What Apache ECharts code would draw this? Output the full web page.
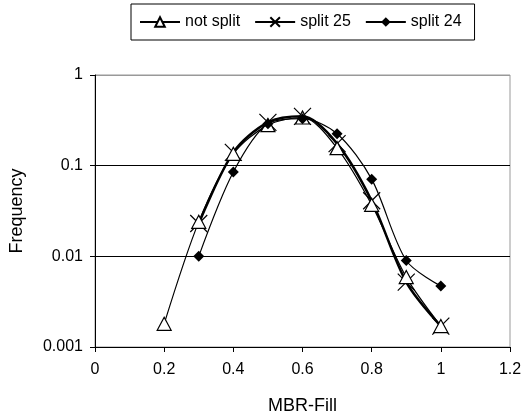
<!DOCTYPE html>
<html>
<head>
<meta charset="utf-8">
<script src="https://cdn.jsdelivr.net/npm/echarts@6/dist/echarts.min.js"></script>
<style>
  html, body { margin: 0; padding: 0; background: #fff; }
  #main { width: 522px; height: 417px; }
</style>
</head>
<body>
<div id="main"></div>
<script>
// values
var notSplitX = [0.2, 0.3, 0.4, 0.5, 0.6, 0.7, 0.8, 0.9, 1.0];
var notSplitY = [0.0018, 0.024, 0.135, 0.28, 0.34, 0.156, 0.037, 0.0059, 0.0017];
var split25X = [0.3, 0.4, 0.5, 0.6, 0.7, 0.8, 0.9, 1.0];
var split25Y = [0.023, 0.14, 0.3, 0.35, 0.175, 0.041, 0.0052, 0.0017];
var split24X = [0.3, 0.4, 0.5, 0.6, 0.7, 0.8, 0.9, 1.0];
var split24Y = [0.01, 0.085, 0.29, 0.33, 0.225, 0.071, 0.009, 0.0047];
var yTickLabels = ['0.001', '0.01', '0.1', '1'];

function pairs(xs, ys) {
  return xs.map(function (x, i) { return [x, ys[i]]; });
}

var crossPath = 'path://M0,0L10,10M10,0L0,10';
var font = 'Liberation Sans, Arial, sans-serif';

var chart = echarts.init(document.getElementById('main'));
var option = {
  animation: false,
  backgroundColor: '#fff',
  textStyle: { fontFamily: font },
  legend: {
    left: 131,
    top: 4,
    padding: [10, 13, 10, 8],
    borderColor: '#000',
    borderWidth: 1,
    itemWidth: 40,
    itemHeight: 12,
    itemGap: 14,
    textStyle: { fontSize: 16, color: '#000', fontFamily: font },
    data: ['not split', 'split 25', 'split 24']
  },
  grid: {
    left: 95,
    right: 12,
    top: 75,
    bottom: 70,
    outerBoundsMode: 'none',
    show: true,
    borderColor: '#999',
    borderWidth: 1
  },
  xAxis: {
    type: 'value',
    min: 0,
    max: 1.2,
    interval: 0.2,
    name: 'MBR-Fill',
    nameLocation: 'middle',
    nameGap: 50,
    nameTextStyle: { fontSize: 18, color: '#000' },
    axisLine: { lineStyle: { color: '#000', width: 1 } },
    axisTick: { show: true, length: 5, lineStyle: { color: '#000' } },
    axisLabel: { fontSize: 16, color: '#000', margin: 15 },
    splitLine: { show: false }
  },
  yAxis: {
    type: 'log',
    logBase: 10,
    min: 0.001,
    max: 1,
    name: 'Frequency',
    nameLocation: 'middle',
    nameGap: 69,
    nameTextStyle: { fontSize: 18, color: '#000' },
    axisLine: { show: true, lineStyle: { color: '#000', width: 1 } },
    axisTick: { show: true, length: 5, lineStyle: { color: '#000' } },
    axisLabel: {
      fontSize: 16, color: '#000', margin: 12,
      formatter: function (v) {
        var i = Math.round(Math.log10(v)) + 3;
        return yTickLabels[i] !== undefined ? yTickLabels[i] : '';
      }
    },
    minorTick: { show: false },
    splitLine: { show: true, lineStyle: { color: ['#000', '#000', '#000', '#999'], width: 1 } }
  },
  series: [
    {
      name: 'not split',
      type: 'line',
      data: pairs(notSplitX, notSplitY),
      smooth: 0.3,
      symbol: 'triangle',
      symbolSize: [14, 13],
      lineStyle: { color: '#000', width: 1.2 },
      itemStyle: { color: '#fff', borderColor: '#000', borderWidth: 1.2 },
      z: 3
    },
    {
      name: 'split 25',
      type: 'line',
      data: pairs(split25X, split25Y),
      smooth: 0.3,
      symbol: crossPath,
      symbolSize: 17,
      lineStyle: { color: '#000', width: 2.5 },
      itemStyle: { color: '#000', borderColor: '#000', borderWidth: 1.2 },
      z: 2
    },
    {
      name: 'split 24',
      type: 'line',
      data: pairs(split24X, split24Y),
      smooth: 0.3,
      symbol: 'diamond',
      symbolSize: 11,
      lineStyle: { color: '#000', width: 1.2 },
      itemStyle: { color: '#000', borderColor: '#000', borderWidth: 0 },
      z: 4
    }
  ]
};
chart.setOption(option);
</script>
</body>
</html>
